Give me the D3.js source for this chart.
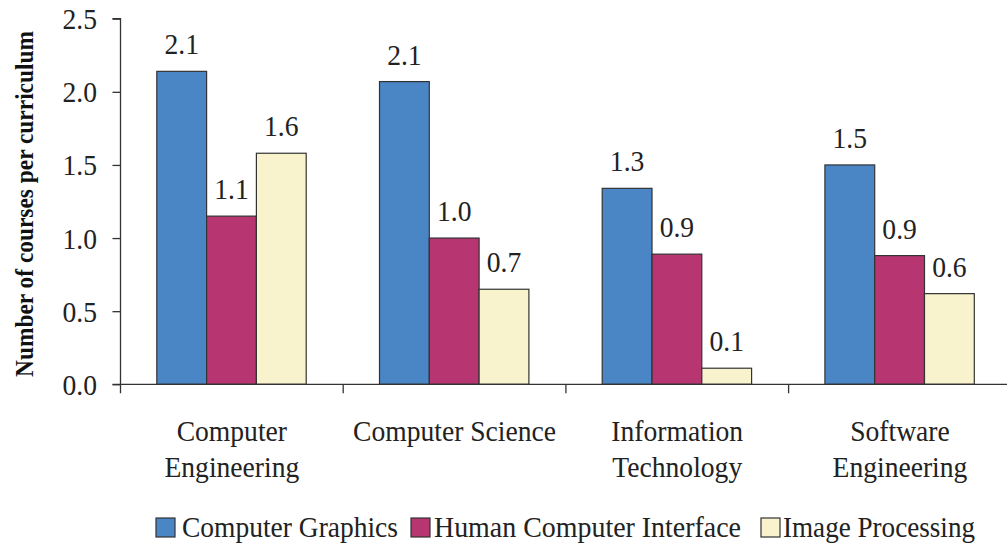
<!DOCTYPE html>
<html>
<head>
<meta charset="utf-8">
<script src="https://cdn.jsdelivr.net/npm/d3@7"></script>
<style>
  html, body { margin: 0; padding: 0; background: #fff; }
  svg { display: block; }
</style>
</head>
<body>
<svg id="chart" width="1007" height="550" font-family="Liberation Serif"></svg>
<script>
const categories = [["Computer", "Engineering"], ["Computer Science"], ["Information", "Technology"], ["Software", "Engineering"]];
const categoryKeys = ["Computer Engineering", "Computer Science", "Information Technology", "Software Engineering"];
const seriesNames = ["Computer Graphics", "Human Computer Interface", "Image Processing"];
const computerGraphics = [2.14, 2.07, 1.34, 1.50];
const humanComputerInterface = [1.15, 1.00, 0.89, 0.88];
const imageProcessing = [1.58, 0.65, 0.11, 0.62];
const yTicks = [0, 0.5, 1.0, 1.5, 2.0, 2.5];
const seriesColors = ["#4a86c6", "#b73571", "#f8f2cd"];

const seriesValues = [computerGraphics, humanComputerInterface, imageProcessing];

const FONT = "Liberation Serif";
const svg = d3.select("#chart");
const x0 = 120.5, yBase = 384.3, yTop = 18.7, step = 222.7;
const SX = 0.92, FS = 30;

function stext(g, x, y, str, size, anchor) {
  return g.append("text")
    .attr("transform", `translate(${x},${y}) scale(${SX},1)`)
    .attr("text-anchor", anchor)
    .attr("font-family", FONT)
    .attr("font-size", size)
    .attr("fill", "#222")
    .text(str);
}

const x = d3.scaleBand().domain(categoryKeys).range([x0, x0 + step * categoryKeys.length]).padding(0);
const y = d3.scaleLinear().domain([0, 2.5]).range([yBase, yTop]);
const xs = d3.scaleBand().domain(seriesNames).range([36.3, 36.3 + 149.4]).padding(0);

// bars + value labels
const labelG = svg.append("g");
seriesNames.forEach((s, si) => {
  const data = categoryKeys.map((c, ci) => ({ c, v: seriesValues[si][ci] }));
  svg.append("g").selectAll("rect").data(data).enter().append("rect")
    .attr("x", d => x(d.c) + xs(s))
    .attr("y", d => y(d.v))
    .attr("width", xs.bandwidth())
    .attr("height", d => yBase - y(d.v))
    .attr("fill", seriesColors[si])
    .attr("stroke", "#333")
    .attr("stroke-width", 1.2);
  data.forEach(d => {
    stext(labelG, x(d.c) + xs(s) + xs.bandwidth() / 2, y(d.v) - 17, d.v.toFixed(1), FS, "middle");
  });
});

// y axis
const yAxis = d3.axisLeft(y).tickValues(yTicks).tickFormat("").tickSize(8);
const gy = svg.append("g").attr("transform", `translate(${x0},0)`).call(yAxis);
gy.select(".domain").attr("stroke", "#333").attr("stroke-width", 1.3).attr("d", `M-8,${yTop}H0V${yBase}`);
gy.selectAll(".tick line").attr("stroke", "#333").attr("stroke-width", 1.3);
yTicks.forEach(t => stext(svg, 97, y(t) + 10.5, d3.format(".1f")(t), FS, "end"));

// x axis
const gx = svg.append("g").attr("transform", `translate(0,${yBase})`);
gx.append("line").attr("x1", x0 - 8).attr("x2", 1007).attr("y1", 0).attr("y2", 0).attr("stroke", "#333").attr("stroke-width", 1.3);
gx.selectAll("line.tk").data(categoryKeys).enter().append("line")
  .attr("class", "tk")
  .attr("x1", d => x(d)).attr("x2", d => x(d))
  .attr("y1", 0).attr("y2", 9).attr("stroke", "#333").attr("stroke-width", 1.3);
categoryKeys.forEach((c, i) => {
  categories[i].forEach((line, li) => {
    stext(svg, x(c) + x.bandwidth() / 2, 441 + li * 35.5, line, FS, "middle");
  });
});

// y title
svg.append("text")
  .attr("transform", "translate(33,204) rotate(-90) scale(0.9,1)")
  .attr("text-anchor", "middle")
  .attr("font-family", FONT)
  .attr("font-size", 26)
  .attr("font-weight", "bold")
  .attr("fill", "#111")
  .text("Number of courses per curriculum");

// legend
const legendPos = [{ sq: 156, tx: 182, w: 216 }, { sq: 411, tx: 434, w: 307 }, { sq: 761, tx: 783, w: 192 }];
const lg = svg.append("g");
seriesNames.forEach((s, i) => {
  lg.append("rect").attr("x", legendPos[i].sq).attr("y", 518).attr("width", 19).attr("height", 19)
    .attr("fill", seriesColors[i]).attr("stroke", "#333").attr("stroke-width", 1.2);
  lg.append("text").attr("x", legendPos[i].tx).attr("y", 537)
    .attr("font-family", FONT).attr("font-size", FS).attr("fill", "#222")
    .attr("textLength", legendPos[i].w).attr("lengthAdjust", "spacingAndGlyphs").text(s);
});
</script>
</body>
</html>
